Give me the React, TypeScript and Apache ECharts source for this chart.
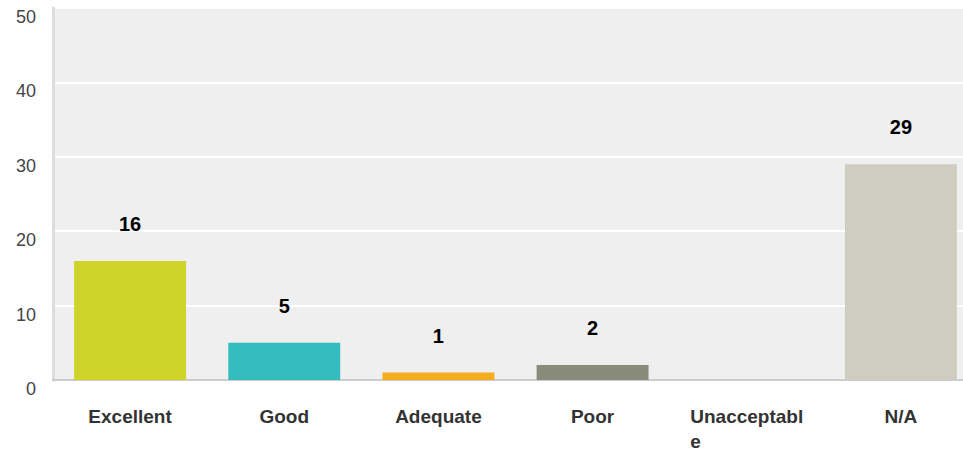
import React, { useEffect, useRef } from "react";
import * as echarts from "echarts";

const categories = ["Excellent", "Good", "Adequate", "Poor", "Unacceptable", "N/A"];
const values = [16, 5, 1, 2, 0, 29];
const barColors = ["#d0d428", "#33bdbf", "#f5ad1f", "#888a7a", "#a0a0a0", "#cfcdbf"];

export default function App() {
  const ref = useRef<HTMLDivElement>(null);
  useEffect(() => {
    document.body.style.margin = "0";
    const chart = echarts.init(ref.current!, null, { renderer: "svg" });
    chart.setOption({
      animation: false,
      backgroundColor: "#ffffff",
      grid: {
        left: 53,
        right: 0,
        top: 8,
        bottom: 71,
        containLabel: false,
        outerBoundsMode: "none",
        show: true,
        backgroundColor: "#efefef",
        borderWidth: 0,
      },
      xAxis: {
        type: "category",
        data: categories,
        axisLine: { show: true, lineStyle: { color: "#cccccc", width: 2 } },
        axisTick: { show: false },
        axisLabel: {
          margin: 24,
          color: "#333333",
          fontFamily: "Liberation Sans, Arial, sans-serif",
          fontSize: 19,
          fontWeight: "bold",
          lineHeight: 25,
          interval: 0,
          formatter: (v: string) =>
            v.length > 11 ? "{a|" + v.slice(0, 11) + "}\n{a|" + v.slice(11) + "}" : v,
          rich: {
            a: {
              align: "left",
              color: "#333333",
              fontFamily: "Liberation Sans, Arial, sans-serif",
              fontSize: 19,
              fontWeight: "bold",
              lineHeight: 25,
            },
          },
        },
      },
      yAxis: {
        type: "value",
        min: 0,
        max: 50,
        interval: 10,
        axisLine: { show: true, lineStyle: { color: "#dddddd", width: 3 } },
        axisTick: { show: false },
        splitLine: { show: true, lineStyle: { color: "#ffffff", width: 2 } },
        axisLabel: {
          margin: 17,
          color: "#444444",
          fontFamily: "Liberation Sans, Arial, sans-serif",
          fontSize: 18,
          verticalAlign: "top",
        },
      },
      series: [
        {
          type: "bar",
          barWidth: "72.6%",
          data: values.map((v, i) => ({ value: v, itemStyle: { color: barColors[i] } })),
          label: {
            show: true,
            position: "top",
            distance: 27,
            color: "#000000",
            fontFamily: "Liberation Sans, Arial, sans-serif",
            fontSize: 20,
            fontWeight: "bold",
            formatter: (p: any) => (p.value > 0 ? String(p.value) : ""),
          },
        },
      ],
    });
    return () => chart.dispose();
  }, []);
  return (
    <div style={{ width: 963, height: 451, overflow: "hidden", position: "relative" }}>
      <div ref={ref} style={{ width: 978, height: 451 }} />
    </div>
  );
}
